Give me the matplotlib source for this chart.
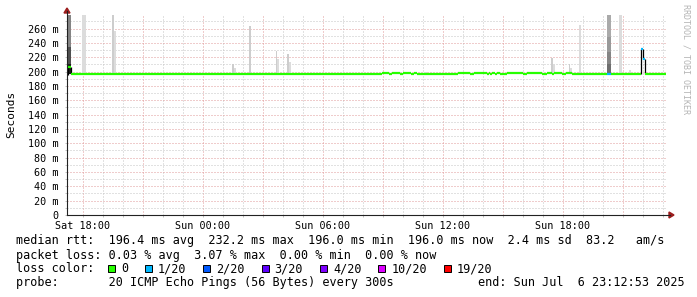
import matplotlib
matplotlib.use("Agg")
import matplotlib.pyplot as plt
from matplotlib.patches import Rectangle, Polygon
from matplotlib.lines import Line2D

# time in hours since Sat 00:00 (values > 24 are Sunday)
t_start, t_end = 17.215, 47.215

# median rtt (ms) as steps: start time, value, loss index
med_t = [17.215, 17.28, 17.415, 32.95, 33.315, 33.465, 33.865, 34.015, 34.415, 34.565,
         34.715, 35.915, 36.165, 36.315, 36.615, 36.765, 37.365, 37.565, 38.215, 38.315,
         38.365, 38.465, 38.615, 38.715, 38.865, 39.215, 40.015, 40.215, 40.965, 41.215,
         41.465, 41.565, 41.965, 42.165, 42.465, 44.215, 44.415, 45.89, 45.99, 46.1]
med_v = [195.5, 206.0, 196.0, 197.6, 197.0, 197.6, 196.5, 197.6, 196.4, 197.6,
         196.0, 197.2, 196.5, 197.2, 196.5, 197.4, 196.6, 197.4, 196.4, 197.4,
         196.4, 197.4, 196.4, 197.4, 196.4, 197.4, 196.4, 197.4, 196.4, 197.4,
         196.4, 197.4, 196.4, 197.4, 196.0, 196.0, 196.0, 232.2, 218.0, 196.0]
med_loss = [0, 0, 0, 0, 0, 0, 0, 0, 0, 0,
            0, 0, 0, 0, 0, 0, 0, 0, 0, 0,
            0, 0, 0, 0, 0, 0, 0, 0, 0, 0,
            0, 0, 0, 0, 0, 1, 0, 1, 1, 0]
med_end = 47.165

# smoke (ping spread) layers: time span, low/high ms, density level
smoke_t0 = [17.28, 17.28, 17.28, 17.95, 19.45, 19.565, 25.465, 25.565, 26.315, 27.665,
            27.73, 28.2, 28.315, 35.065, 37.465, 41.415, 41.515, 42.3, 42.365, 42.815,
            44.215, 44.215, 44.215, 44.215, 44.815, 45.315]
smoke_t1 = [17.415, 17.415, 17.415, 18.165, 19.565, 19.64, 25.565, 25.665, 26.43, 27.73,
            27.815, 28.315, 28.4, 35.215, 37.565, 41.515, 41.615, 42.365, 42.465, 42.915,
            44.415, 44.415, 44.415, 44.415, 44.965, 45.415]
smoke_lo = [196, 210, 235, 196, 196, 196, 196, 196, 196, 196,
            196, 196, 196, 196, 196, 196, 196, 196, 196, 196,
            196, 210, 227, 249, 196, 196]
smoke_hi = [210, 235, 279, 279, 279, 257, 211, 205, 264, 229,
            217, 225, 214, 200, 199.5, 219, 210, 210, 205, 265,
            210, 227, 249, 279, 279, 202]
smoke_lvl = [8, 7, 5, 1, 2, 1, 2, 1, 2, 2,
             1, 2, 1, 1, 1, 2, 1, 2, 1, 1,
             6, 5, 4, 3, 1, 1]
shade = {1: '#dcdcdc', 2: '#cdcdcd', 3: '#aaaaaa', 4: '#999999', 5: '#858585',
         6: '#6e6e6e', 7: '#505050', 8: '#1e1e1e'}

loss_labels = ['0', '1/20', '2/20', '3/20', '4/20', '10/20', '19/20']
loss_colors = ['#26ff00', '#00b8ff', '#0059ff', '#5e00ff', '#7e00ff', '#dd00ff', '#ff0000']

y_major = list(range(0, 261, 20))
y_minor = list(range(0, 280, 10))
x_major = list(range(18, 48, 3))
x_minor = list(range(18, 48, 1))

W, H = 697, 297
mono = 'DejaVu Sans Mono'

def fx(x):
    return x / W

def fy(y):
    return 1 - y / H

fig = plt.figure(figsize=(W / 100, H / 100), dpi=100)
ax = fig.add_axes([fx(67), fy(215), 600 / W, 200 / H])
ax.set_xlim(t_start, t_end)
ax.set_ylim(0, 279)

# grid
ax.set_xticks(x_major)
ax.set_xticks(x_minor, minor=True)
ax.set_yticks(y_major)
ax.set_yticks(y_minor, minor=True)
ax.grid(which='minor', color='#c4c4c4', lw=0.72, ls=(0, (1, 2)))
ax.grid(which='major', color='#e09a9a', lw=0.72, ls=(0, (1, 2)))
ax.set_axisbelow(True)

def xlab(h):
    if h % 6 != 0:
        return ''
    day = 'Sat' if h < 24 else 'Sun'
    return f'{day} {h % 24:02d}:00'

ax.set_xticklabels([xlab(h) for h in x_major], family=mono, fontsize=7.3)
ax.set_yticklabels(['0' if v == 0 else f'{v} m' for v in y_major], family=mono, fontsize=7.3)
ax.tick_params(which='both', length=1.5, color='#c0c0c0', width=0.7)
ax.tick_params(axis='y', pad=4.5)
ax.tick_params(axis='x', pad=2.5)
for s in ax.spines.values():
    s.set_visible(False)

# smoke
for t0, t1, lo, hi, lv in zip(smoke_t0, smoke_t1, smoke_lo, smoke_hi, smoke_lvl):
    ax.bar(t0, hi - lo, width=t1 - t0, bottom=lo, align='edge', color=shade[lv], lw=0)

# median: black risers on the larger jumps, loss-coloured steps on top
for i in range(1, len(med_t)):
    if abs(med_v[i] - med_v[i - 1]) > 3:
        ax.vlines(med_t[i], med_v[i - 1], med_v[i], color='black', lw=0.9)
t_next = med_t[1:] + [med_end]
for t0, t1, v, l in zip(med_t, t_next, med_v, med_loss):
    ax.hlines(v, t0, t1, color=loss_colors[l], lw=1.6, capstyle='butt')

# axes with arrows
fig.add_artist(Line2D([fx(67), fx(67)], [fy(215), fy(11)], color='#222222', lw=0.8))
fig.add_artist(Line2D([fx(67), fx(670)], [fy(215), fy(215)], color='#222222', lw=0.8))
fig.add_artist(Polygon([(fx(64), fy(13)), (fx(70), fy(13)), (fx(67), fy(8))], closed=True,
                       color='#9b1c1c', transform=fig.transFigure))
fig.add_artist(Polygon([(fx(669), fy(212)), (fx(669), fy(218)), (fx(674), fy(215))], closed=True,
                       color='#9b1c1c', transform=fig.transFigure))

fig.text(fx(11), fy(114), 'Seconds', rotation=90, family=mono, fontsize=8,
         ha='center', va='center')
fig.text(fx(686), fy(4), 'RRDTOOL / TOBI OETIKER', rotation=270, family=mono, fontsize=6,
         color='#b4b4b4', ha='center', va='top')

# legend
fs = 8.5
fig.text(fx(16), fy(240.7),
         'median rtt:  196.4 ms avg  232.2 ms max  196.0 ms min  196.0 ms now  2.4 ms sd  83.2   am/s',
         family=mono, fontsize=fs, va='center')
fig.text(fx(16), fy(255.2), 'packet loss: 0.03 % avg  3.07 % max  0.00 % min  0.00 % now',
         family=mono, fontsize=fs, va='center')
fig.text(fx(16), fy(268.5), 'loss color:', family=mono, fontsize=fs, va='center')
cur = 108
for lab, col in zip(loss_labels, loss_colors):
    fig.add_artist(Rectangle((fx(cur), fy(272)), 7 / W, 7 / H, transform=fig.transFigure,
                             facecolor=col, edgecolor='black', lw=0.7))
    fig.text(fx(cur + 13), fy(268.5), lab, family=mono, fontsize=fs, va='center')
    cur += 13 + len(lab) * 7.07 + 17
fig.text(fx(16), fy(282.5), 'probe:       20 ICMP Echo Pings (56 Bytes) every 300s',
         family=mono, fontsize=fs, va='center')
fig.text(fx(478), fy(282.5), 'end: Sun Jul  6 23:12:53 2025', family=mono, fontsize=fs, va='center')

fig.savefig('out.png', dpi=100)
